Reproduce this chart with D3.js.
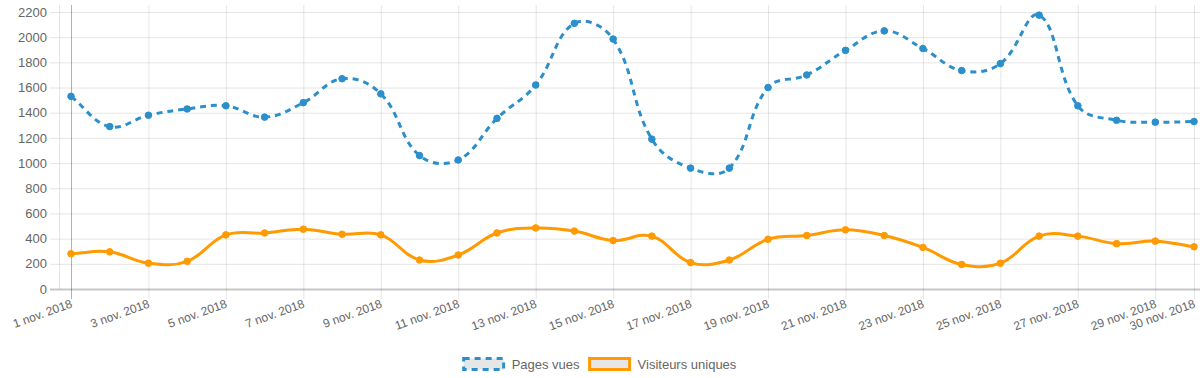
<!DOCTYPE html>
<html>
<head>
<meta charset="utf-8">
<script src="https://cdn.jsdelivr.net/npm/d3@7"></script>
<style>
    body { margin: 0; background: #fff; }
    text { font-family: "Liberation Sans", Arial, Helvetica, sans-serif; fill: #666; }
</style>
</head>
<body>
<svg id="drawing_region"></svg>
<script>
// jours de novembre 2018
const days = [1,2,3,4,5,6,7,8,9,10,11,12,13,14,15,16,17,18,19,20,21,22,23,24,25,26,27,28,29,30];
const pagesVues = [1530,1290,1380,1430,1455,1365,1480,1670,1550,1060,1025,1355,1620,2110,1985,
                   1190,960,960,1600,1700,1895,2050,1910,1735,1790,2175,1455,1340,1325,1330];
const visiteursUniques = [280,295,205,220,430,445,475,435,430,230,270,445,485,460,385,
                          420,210,230,395,425,470,425,330,195,205,420,420,360,380,335];
const yTicks = [0,200,400,600,800,1000,1200,1400,1600,1800,2000,2200];
const xTickDays = [1,3,5,7,9,11,13,15,17,19,21,23,25,27,29,30];
const seriesNames = ["Pages vues", "Visiteurs uniques"];
const seriesColors = ["#2b8fcc", "#ff9a00"];

const config = {
    width: 1200,
    height: 378,
    left: 71, right: 1194, top: 12, bottom: 289
};

const svg = d3.select('#drawing_region')
    .attr('width', config.width)
    .attr('height', config.height);

const date = d => new Date(2018, 10, d);

const xscale = d3.scaleTime()
    .domain([date(1), date(30)])
    .range([config.left, config.right]);

const yscale = d3.scaleLinear()
    .domain([0, 2200])
    .range([config.bottom, config.top]);

// horizontal grid
const ygrid = svg.append('g')
    .attr('transform', 'translate(50,0)')
    .call(d3.axisRight(yscale).tickValues(yTicks).tickSize(config.width - 50).tickFormat(''));
ygrid.select('.domain').remove();
ygrid.selectAll('line')
    .attr('stroke', d => d === 0 ? 'rgba(0,0,0,0.22)' : 'rgba(0,0,0,0.1)')
    .attr('stroke-width', d => d === 0 ? 2 : 1);

// vertical grid
const xgrid = svg.append('g')
    .attr('transform', `translate(0,${config.bottom + 10})`)
    .call(d3.axisTop(xscale).tickValues(xTickDays.map(date)).tickSize(config.bottom + 10 - 5).tickFormat(''));
xgrid.select('.domain').remove();
xgrid.selectAll('line')
    .attr('stroke', (d, i) => i === 0 ? 'rgba(0,0,0,0.3)' : 'rgba(0,0,0,0.1)');

// y axis border line
svg.append('line')
    .attr('x1', 59.5).attr('x2', 59.5)
    .attr('y1', 5).attr('y2', config.bottom)
    .attr('stroke', 'rgba(0,0,0,0.1)');

// y labels
const yaxis = svg.append('g')
    .attr('transform', 'translate(50,0)')
    .call(d3.axisLeft(yscale).tickValues(yTicks).tickSize(0).tickPadding(3).tickFormat(d3.format('d')));
yaxis.select('.domain').remove();
yaxis.selectAll('text').attr('font-size', 13).attr('fill', '#666');

// x labels
const moisFr = ["janv.","févr.","mars","avr.","mai","juin","juil.","août","sept.","oct.","nov.","déc."];
const xaxis = svg.append('g')
    .attr('transform', `translate(0,${config.bottom})`)
    .call(d3.axisBottom(xscale).tickValues(xTickDays.map(date)).tickSize(0)
        .tickFormat(d => `${d.getDate()} ${moisFr[d.getMonth()]} ${d.getFullYear()}`));
xaxis.select('.domain').remove();
xaxis.selectAll('text')
    .attr('font-size', 12)
    .attr('fill', '#666')
    .attr('text-anchor', 'end')
    .attr('x', 0).attr('y', 0).attr('dy', '0.35em')
    .attr('transform', 'translate(0,14) rotate(-20)');

// spline like Chart.js (tension 0.4)
function splinePath(values) {
    const pts = days.map((d, i) => ({ x: xscale(date(d)), y: yscale(values[i]) }));
    const t = 0.4;
    const ctrl = pts.map((cur, i) => {
        const prev = pts[i - 1] || cur;
        const next = pts[i + 1] || cur;
        const d01 = Math.hypot(cur.x - prev.x, cur.y - prev.y);
        const d12 = Math.hypot(next.x - cur.x, next.y - cur.y);
        let s01 = d01 / (d01 + d12), s12 = d12 / (d01 + d12);
        if (isNaN(s01)) s01 = 0;
        if (isNaN(s12)) s12 = 0;
        return {
            px: cur.x - t * s01 * (next.x - prev.x), py: cur.y - t * s01 * (next.y - prev.y),
            nx: cur.x + t * s12 * (next.x - prev.x), ny: cur.y + t * s12 * (next.y - prev.y)
        };
    });
    const p = d3.path();
    p.moveTo(pts[0].x, pts[0].y);
    for (let i = 1; i < pts.length; i++) {
        p.bezierCurveTo(ctrl[i - 1].nx, ctrl[i - 1].ny, ctrl[i].px, ctrl[i].py, pts[i].x, pts[i].y);
    }
    return p.toString();
}

const series = [pagesVues, visiteursUniques];
const dashes = ['6,5', null];

series.forEach((values, k) => {
    svg.append('path')
        .attr('d', splinePath(values))
        .attr('fill', 'none')
        .attr('stroke', seriesColors[k])
        .attr('stroke-width', 3)
        .attr('stroke-dasharray', dashes[k]);
    svg.append('g').selectAll('circle')
        .data(values)
        .join('circle')
        .attr('cx', (v, i) => xscale(date(days[i])))
        .attr('cy', v => yscale(v))
        .attr('r', 3.3)
        .attr('fill', seriesColors[k])
        .attr('stroke', seriesColors[k])
        .attr('stroke-width', 1);
});

// legend
const legend = svg.append('g');
const items = legend.selectAll('g')
    .data(seriesNames)
    .join('g');
items.append('rect')
    .attr('width', 40).attr('height', 11)
    .attr('fill', '#e6e6e6')
    .attr('stroke', (d, i) => seriesColors[i])
    .attr('stroke-width', 3)
    .attr('stroke-dasharray', (d, i) => dashes[i]);
items.append('text')
    .attr('x', 48).attr('y', 5.5).attr('dy', '0.35em')
    .attr('font-size', 13)
    .text(d => d);
let cx = 0;
const offsets = [];
items.each(function () {
    offsets.push(cx);
    cx += 48 + d3.select(this).select('text').node().getComputedTextLength() + 10;
});
const total = cx - 10;
const startX = 600 - total / 2;
items.attr('transform', (d, i) => `translate(${startX + offsets[i]},358.5)`);
</script>
</body>
</html>
